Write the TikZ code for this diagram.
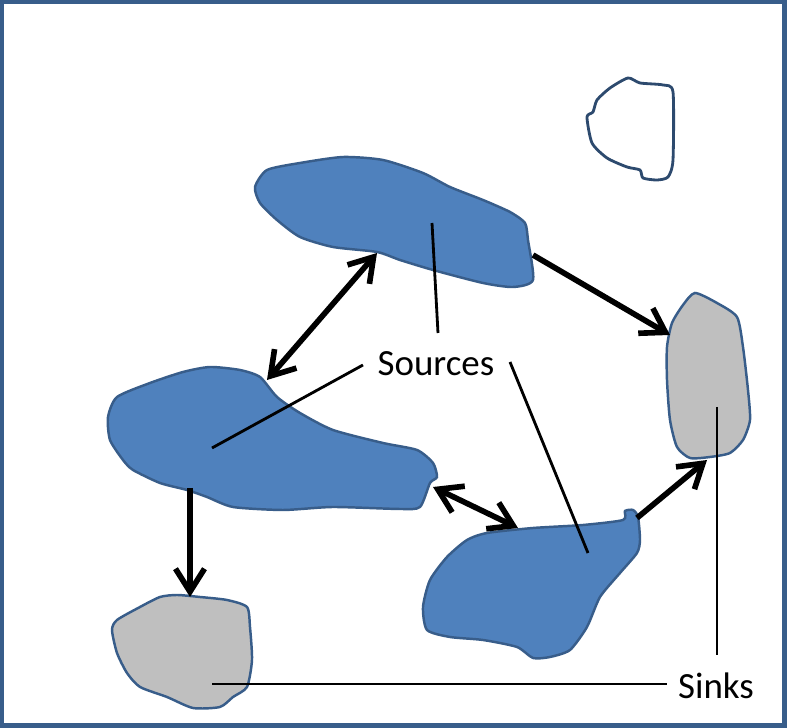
\documentclass[tikz,border=0pt]{standalone}
\usepackage{fontspec}
\setmainfont{Carlito}
\usetikzlibrary{arrows.meta}
\definecolor{srcblue}{RGB}{79,129,189}
\definecolor{edgeblue}{RGB}{56,93,138}
\definecolor{sinkgrey}{RGB}{191,191,191}
\tikzset{barb/.tip={Straight Barb[length=2.3mm,width=2.9mm]}}
\begin{document}
\begin{tikzpicture}[x=0.01cm,y=-0.01cm,
        source/.style={fill=srcblue,draw=edgeblue,line width=0.7pt},
        sink/.style={fill=sinkgrey,draw=edgeblue,line width=0.7pt},
        flow/.style={line width=1.6pt},
        pointer/.style={line width=0.8pt},
        label/.style={font=\fontsize{10.5pt}{12pt}\selectfont,inner sep=0pt}]
    \useasboundingbox (0,0) rectangle (787,728);
    \draw[edgeblue,line width=1.3pt] (2,2) rectangle (784.5,725.5);
    % empty region
    \draw[edgeblue!80!black,line width=0.8pt] plot[smooth cycle,tension=0.4] coordinates {
        (628,78) (640,83) (663,85) (673,92) (673,160) (668,177) (657,180)
        (643,178) (640,170) (627,167) (607,158) (592,143) (587,117) (593,112)
        (597,100) (610,88)};
    % sources
    \draw[source] plot[smooth cycle,tension=0.4] coordinates {
        (255,187) (267,170) (300,163) (343,157) (383,160) (423,173) (450,187)
        (483,200) (510,212) (525,223) (528,240) (533,280) (513,287) (483,283)
        (433,270) (400,260) (377,252) (333,247) (300,237) (277,220) (260,203)};
    \draw[source] plot[smooth cycle,tension=0.4] coordinates {
        (108,417) (117,397) (150,383) (183,372) (210,367) (240,370) (260,377)
        (277,397) (300,413) (333,430) (383,443) (417,450) (433,463) (437,477)
        (430,483) (420,507) (400,509) (333,507) (283,510) (233,507) (207,497)
        (187,490) (160,483) (133,470) (123,460) (110,440)};
    \draw[source] plot[smooth cycle,tension=0.4] coordinates {
        (487,533) (533,528) (583,525) (623,520) (625,511) (633,510) (638,517)
        (640,540) (637,553) (620,573) (600,597) (587,627) (570,650) (550,657)
        (533,658) (517,647) (483,640) (450,637) (427,630) (423,607) (430,580)
        (447,557) (467,540)};
    % sinks
    \draw[sink] plot[smooth cycle,tension=0.4] coordinates {
        (695,293) (717,303) (737,317) (743,347) (748,390) (750,420) (743,440)
        (730,453) (710,457) (690,458) (677,447) (670,420) (667,380) (667,347)
        (672,323) (683,305)};
    \draw[sink] plot[smooth cycle,tension=0.4] coordinates {
        (177,595) (200,597) (227,600) (247,607) (250,627) (252,660) (247,687)
        (233,697) (220,707) (193,708) (167,697) (140,687) (127,673) (117,653)
        (112,630) (117,620) (140,607) (160,597)};
    % flows
    \coordinate (topS) at (377,253);
    \coordinate (leftN) at (267,380);
    \coordinate (topE) at (533,255);
    \coordinate (sinkRW) at (670,335);
    \coordinate (leftS) at (190,488);
    \coordinate (sinkLN) at (190,597);
    \coordinate (leftE) at (433,487);
    \coordinate (lowNW) at (518,528);
    \coordinate (lowNE) at (637,518);
    \coordinate (sinkRS) at (707,460);
    \draw[flow,barb-barb] (leftN) -- (topS);
    \draw[flow,-barb] (topE) -- (sinkRW);
    \draw[flow,-barb] (leftS) -- (sinkLN);
    \draw[flow,barb-barb] (leftE) -- (lowNW);
    \draw[flow,-barb] (lowNE) -- (sinkRS);
    % labels
    \node[label] (sources) at (436,364) {Sources};
    \node[label] (sinks) at (716,686) {Sinks};
    \coordinate (srcTop) at (432,223);
    \coordinate (srcLeft) at (212,448);
    \coordinate (srcLow) at (588,553);
    \coordinate (snkRight) at (717,407);
    \coordinate (snkLeft) at (212,684);
    \draw[pointer] (srcTop) -- (438,333);
    \draw[pointer] (srcLeft) -- (363,365);
    \draw[pointer] (510,362) -- (srcLow);
    \draw[pointer] (snkRight) -- (717,655);
    \draw[pointer] (snkLeft) -- (667,684);
\end{tikzpicture}
\end{document}
